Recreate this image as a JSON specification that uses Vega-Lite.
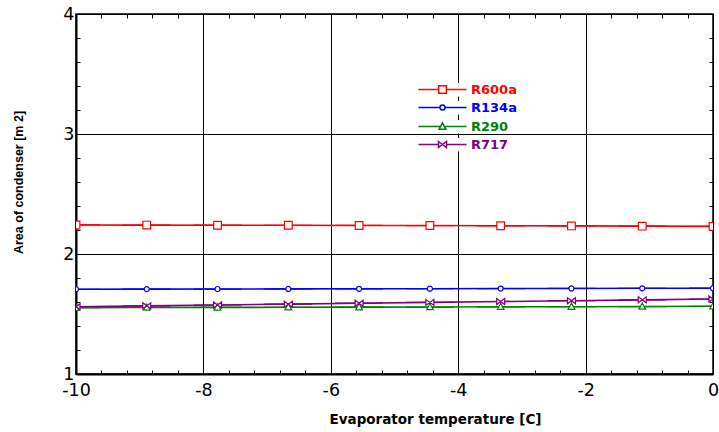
{
  "$schema": "https://vega.github.io/schema/vega-lite/v6.json",
  "width": 637,
  "height": 360,
  "autosize": "none",
  "padding": {"left": 76, "top": 14, "right": 6, "bottom": 58},
  "background": "white",
  "config": {"view": {"stroke": "black", "strokeWidth": 1.5}, "font": "DejaVu Sans"},
  "data": {"values": [
    {"series": "R600a", "T": -10, "A": 2.242},
    {"series": "R600a", "T": -8.889, "A": 2.241},
    {"series": "R600a", "T": -7.778, "A": 2.240},
    {"series": "R600a", "T": -6.667, "A": 2.239},
    {"series": "R600a", "T": -5.556, "A": 2.238},
    {"series": "R600a", "T": -4.444, "A": 2.237},
    {"series": "R600a", "T": -3.333, "A": 2.235},
    {"series": "R600a", "T": -2.222, "A": 2.234},
    {"series": "R600a", "T": -1.111, "A": 2.232},
    {"series": "R600a", "T": 0, "A": 2.230},
    {"series": "R134a", "T": -10, "A": 1.706},
    {"series": "R134a", "T": -8.889, "A": 1.707},
    {"series": "R134a", "T": -7.778, "A": 1.708},
    {"series": "R134a", "T": -6.667, "A": 1.709},
    {"series": "R134a", "T": -5.556, "A": 1.710},
    {"series": "R134a", "T": -4.444, "A": 1.711},
    {"series": "R134a", "T": -3.333, "A": 1.712},
    {"series": "R134a", "T": -2.222, "A": 1.713},
    {"series": "R134a", "T": -1.111, "A": 1.714},
    {"series": "R134a", "T": 0, "A": 1.715},
    {"series": "R290", "T": -10, "A": 1.553},
    {"series": "R290", "T": -8.889, "A": 1.554},
    {"series": "R290", "T": -7.778, "A": 1.555},
    {"series": "R290", "T": -6.667, "A": 1.556},
    {"series": "R290", "T": -5.556, "A": 1.557},
    {"series": "R290", "T": -4.444, "A": 1.558},
    {"series": "R290", "T": -3.333, "A": 1.560},
    {"series": "R290", "T": -2.222, "A": 1.561},
    {"series": "R290", "T": -1.111, "A": 1.562},
    {"series": "R290", "T": 0, "A": 1.564},
    {"series": "R717", "T": -10, "A": 1.561},
    {"series": "R717", "T": -8.889, "A": 1.568},
    {"series": "R717", "T": -7.778, "A": 1.575},
    {"series": "R717", "T": -6.667, "A": 1.582},
    {"series": "R717", "T": -5.556, "A": 1.590},
    {"series": "R717", "T": -4.444, "A": 1.597},
    {"series": "R717", "T": -3.333, "A": 1.604},
    {"series": "R717", "T": -2.222, "A": 1.611},
    {"series": "R717", "T": -1.111, "A": 1.618},
    {"series": "R717", "T": 0, "A": 1.625}
  ]},
  "layer": [
    {
      "mark": {"type": "line", "strokeWidth": 1.6, "clip": true},
      "encoding": {
        "x": {"field": "T", "type": "quantitative", "scale": {"domain": [-10, 0], "nice": false, "zero": false},
          "axis": {"orient": "bottom", "values": [-10, -9.6, -9.2, -8.8, -8.4, -8, -7.6, -7.2, -6.8, -6.4, -6, -5.6, -5.2, -4.8, -4.4, -4, -3.6, -3.2, -2.8, -2.4, -2, -1.6, -1.2, -0.8, -0.4, 0],
            "title": "Evaporator temperature [C]", "titleFont": "DejaVu Sans", "titleFontSize": 13.5, "titleFontWeight": "bold", "titleColor": "black",
            "titleX": 359, "titleY": 49, "titleAlign": "center", "titleBaseline": "alphabetic",
            "labelExpr": "datum.value % 2 === 0 ? toString(datum.value) : ''", "labelFontSize": 17.5, "labelColor": "black", "labelPadding": 11, "labelFlush": false, "labelOverlap": false,
            "tickSize": -4, "tickColor": "black", "domainColor": "black", "domainWidth": 2,
            "grid": true, "gridColor": "black", "gridWidth": 1, "gridOpacity": {"condition": {"test": "datum.value % 2 === 0", "value": 1}, "value": 0}}},
        "y": {"field": "A", "type": "quantitative", "scale": {"domain": [1, 4], "nice": false, "zero": false},
          "axis": {"orient": "left", "values": [1, 1.2, 1.4, 1.6, 1.8, 2, 2.2, 2.4, 2.6, 2.8, 3, 3.2, 3.4, 3.6, 3.8, 4],
            "title": "Area of condenser [m 2]", "titleFont": "Liberation Sans", "titleFontSize": 12.5, "titleFontWeight": "bold", "titleColor": "black",
            "titleX": -58, "titleY": 168, "titleAngle": 270, "titleAlign": "center", "titleBaseline": "middle",
            "labelExpr": "datum.value % 1 === 0 ? toString(datum.value) : ''", "labelFontSize": 17.5, "labelColor": "black", "labelPadding": 6, "labelFlush": false, "labelOverlap": false,
            "tickSize": -4, "tickColor": "black", "domainColor": "black", "domainWidth": 2,
            "grid": true, "gridColor": "black", "gridWidth": 1, "gridOpacity": {"condition": {"test": "datum.value % 1 === 0", "value": 1}, "value": 0}}},
        "stroke": {"field": "series", "type": "nominal",
          "scale": {"domain": ["R600a", "R134a", "R290", "R717"], "range": ["#ff0000", "#0000ff", "#008000", "#800080"]},
          "legend": {"orient": "none", "legendX": 360, "legendY": 69, "title": null, "padding": 0, "rowPadding": 4,
            "symbolSize": 100, "symbolStrokeWidth": 1.5, "labelFont": "DejaVu Sans", "labelFontSize": 13, "labelFontWeight": "bold", "labelOffset": 22,
            "encode": {
              "entries": {"update": {"fill": {"value": "white"}}},
              "symbols": {"update": {"fill": {"value": "white"}, "fillOpacity": {"value": 1}}},
              "labels": {"update": {"fill": {"signal": "scale('stroke', datum.value)"}}}
            }}}
      }
    },
    {
      "mark": {"type": "point", "filled": false, "fill": "white", "fillOpacity": 1, "strokeWidth": 1.2, "size": 100, "opacity": 1, "clip": true},
      "encoding": {
        "x": {"field": "T", "type": "quantitative", "axis": null},
        "y": {"field": "A", "type": "quantitative", "axis": null},
        "stroke": {"field": "series", "type": "nominal", "legend": null},
        "shape": {"field": "series", "type": "nominal",
          "scale": {"domain": ["R600a", "R134a", "R290", "R717"], "range": [
            "M-4.8,0H-0.77M0.77,0H4.8M-0.77,-0.77H0.77V0.77H-0.77Z",
            "M-4.8,0H-0.504M0.504,0H4.8M-0.504,0A0.504,0.504,0,1,1,0.504,0A0.504,0.504,0,1,1,-0.504,0Z",
            "M-4.8,0H-0.39M0.39,0H4.8M-0.67,0.53L0,-0.72L0.67,0.53Z",
            "M-4.8,0H-0.8M0.8,0H4.8M-0.8,-0.6L0.8,0.6L0.8,-0.6L-0.8,0.6Z"]}}
      }
    },
    {
      "mark": {"type": "point", "opacity": 0},
      "encoding": {
        "x": {"field": "T", "type": "quantitative",
          "axis": {"orient": "top", "values": [-10, -9.6, -9.2, -8.8, -8.4, -8, -7.6, -7.2, -6.8, -6.4, -6, -5.6, -5.2, -4.8, -4.4, -4, -3.6, -3.2, -2.8, -2.4, -2, -1.6, -1.2, -0.8, -0.4, 0],
            "labels": false, "title": null, "domain": false, "grid": false, "tickSize": -4, "tickColor": "black"}},
        "y": {"field": "A", "type": "quantitative",
          "axis": {"orient": "right", "values": [1, 1.2, 1.4, 1.6, 1.8, 2, 2.2, 2.4, 2.6, 2.8, 3, 3.2, 3.4, 3.6, 3.8, 4],
            "labels": false, "title": null, "domain": false, "grid": false, "tickSize": -4, "tickColor": "black"}}
      }
    }
  ],
  "resolve": {"axis": {"x": "independent", "y": "independent"}}
}
